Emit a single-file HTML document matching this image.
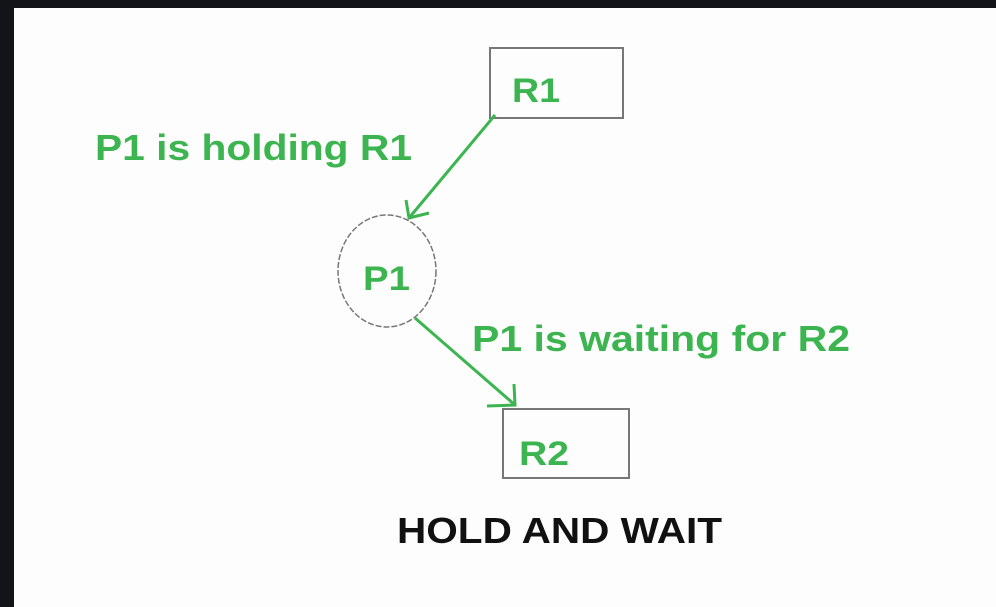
<!DOCTYPE html>
<html><head><style>
html,body{margin:0;padding:0;background:#131417;}
svg{display:block;}
</style></head><body>
<svg width="996" height="607" xmlns="http://www.w3.org/2000/svg" font-family="Liberation Sans, Arial, sans-serif" font-weight="bold">
<rect x="0" y="0" width="996" height="607" fill="#131417"/>
<rect x="14" y="8" width="982" height="599" fill="#fdfdfd"/>
<rect x="490" y="48" width="133" height="70" fill="none" stroke="#777" stroke-width="2"/>
<text x="512" y="102" font-size="34" fill="#3cb550" textLength="48" lengthAdjust="spacingAndGlyphs">R1</text>
<ellipse cx="387" cy="271" rx="49" ry="56" fill="none" stroke="#777" stroke-width="1.5" stroke-dasharray="6,2"/>
<text x="363" y="290" font-size="34" fill="#3cb550" textLength="47" lengthAdjust="spacingAndGlyphs">P1</text>
<rect x="503" y="409" width="126" height="69" fill="none" stroke="#777" stroke-width="2"/>
<text x="519" y="465" font-size="34" fill="#3cb550" textLength="50" lengthAdjust="spacingAndGlyphs">R2</text>
<g stroke="#3cb550" stroke-width="3" fill="none">
<line x1="495" y1="115" x2="409" y2="218"/>
<polyline points="406,200 409,218 429,213"/>
<line x1="415" y1="318" x2="515" y2="405"/>
<polyline points="487,406 515,405 514,384"/>
</g>
<text x="95" y="160" font-size="36" fill="#3cb550" textLength="317" lengthAdjust="spacingAndGlyphs">P1 is holding R1</text>
<text x="472" y="351" font-size="36" fill="#3cb550" textLength="378" lengthAdjust="spacingAndGlyphs">P1 is waiting for R2</text>
<text x="397" y="543" font-size="36" fill="#111" textLength="325" lengthAdjust="spacingAndGlyphs">HOLD AND WAIT</text>
</svg>
</body></html>
